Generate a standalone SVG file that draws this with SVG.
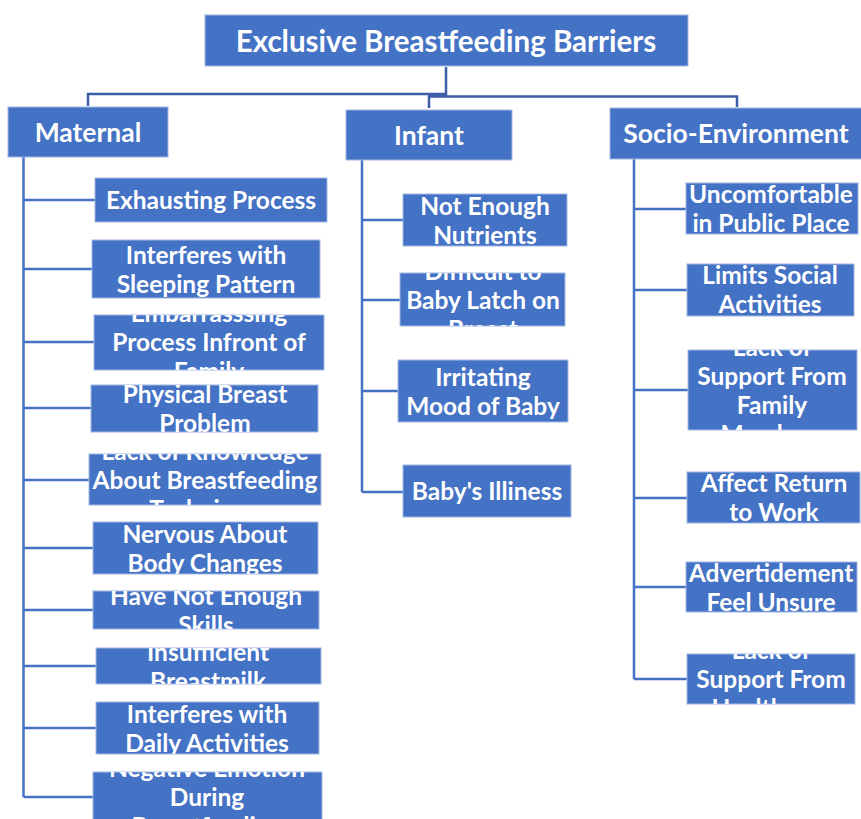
<svg xmlns="http://www.w3.org/2000/svg" width="861" height="819" viewBox="0 0 861 819">
<style>
.box{fill:#4472C4;stroke:#A3B8E2;stroke-width:1}
.t{fill:#FFFFFF;font-family:Lato,"Open Sans","Liberation Sans",sans-serif;font-weight:700;text-anchor:middle}
.c{font-size:24.5px}
.h{font-size:26.5px}
.ti{font-size:29.5px}
.top{fill:none;stroke:#3B5EA6;stroke-width:2.5}
.br{fill:none;stroke:#4472C4;stroke-width:2.5}
</style>
<defs>
<clipPath id="k1"><rect x="95" y="178" width="232" height="44"/></clipPath>
<clipPath id="k2"><rect x="92" y="240" width="228" height="58"/></clipPath>
<clipPath id="k3"><rect x="94" y="315" width="230" height="55"/></clipPath>
<clipPath id="k4"><rect x="91" y="385" width="227" height="47"/></clipPath>
<clipPath id="k5"><rect x="89" y="454" width="232" height="51"/></clipPath>
<clipPath id="k6"><rect x="93" y="522" width="225" height="52"/></clipPath>
<clipPath id="k7"><rect x="93" y="591" width="226" height="38"/></clipPath>
<clipPath id="k8"><rect x="96" y="648" width="225" height="36"/></clipPath>
<clipPath id="k9"><rect x="96" y="702" width="223" height="52"/></clipPath>
<clipPath id="k10"><rect x="93" y="772" width="229" height="50"/></clipPath>
<clipPath id="i1"><rect x="403" y="194" width="164" height="52"/></clipPath>
<clipPath id="i2"><rect x="400" y="273" width="165" height="53"/></clipPath>
<clipPath id="i3"><rect x="398" y="360" width="170" height="62"/></clipPath>
<clipPath id="i4"><rect x="403" y="465" width="168" height="52"/></clipPath>
<clipPath id="s1"><rect x="686" y="183" width="172" height="51"/></clipPath>
<clipPath id="s2"><rect x="687" y="264" width="167" height="52"/></clipPath>
<clipPath id="s3"><rect x="688" y="350" width="169" height="80"/></clipPath>
<clipPath id="s4"><rect x="687" y="472" width="173" height="51"/></clipPath>
<clipPath id="s5"><rect x="686" y="562" width="171" height="50"/></clipPath>
<clipPath id="s6"><rect x="687" y="654" width="168" height="50"/></clipPath>
</defs>

<g id="connectors">
<path class="top" d="M446,67 V96 M88,106 V94 H446 M429,108 V96.5 H737 V107"/>
<path class="br" d="M23.5,157 V797 M23.5,200 H95 M23.5,269 H92 M23.5,342 H94 M23.5,408 H91 M23.5,480 H89 M23.5,548 H93 M23.5,610 H93 M23.5,666 H96 M23.5,728 H96 M23.5,797 H93"/>
<path class="br" d="M362,160 V492 M362,220 H403 M362,300 H400 M362,391 H398 M362,492 H403"/>
<path class="br" d="M634,159 V679 M634,209 H686 M634,290 H687 M634,390 H688 M634,498 H687 M634,587 H686 M634,679 H687"/>
</g>

<g id="title">
<rect class="box" x="205" y="15" width="483" height="51"/>
<text class="t ti" x="446" y="51.5">Exclusive Breastfeeding Barriers</text>
</g>
<g id="maternal">
<rect class="box" x="8" y="107" width="160" height="50"/>
<text class="t h" x="88" y="141.5">Maternal</text>
</g>
<g id="infant">
<rect class="box" x="346" y="110" width="166" height="50"/>
<text class="t h" x="429" y="144.5">Infant</text>
</g>
<g id="socio">
<rect class="box" x="610" y="108" width="256" height="51"/>
<text class="t h" x="736" y="142.5">Socio-Environment</text>
</g>

<g id="m1">
<rect class="box" x="95" y="178" width="232" height="44"/>
<text class="t c" clip-path="url(#k1)" x="211" y="208.5">Exhausting Process</text>
</g>
<g id="m2">
<rect class="box" x="92" y="240" width="228" height="58"/>
<text class="t c" clip-path="url(#k2)" x="206" y="263.5"><tspan x="206">Interferes with</tspan><tspan x="206" dy="29">Sleeping Pattern</tspan></text>
</g>
<g id="m3">
<rect class="box" x="94" y="315" width="230" height="55"/>
<text class="t c" clip-path="url(#k3)" x="209" y="321.5"><tspan x="209">Embarrasssing</tspan><tspan x="209" dy="29">Process Infront of</tspan><tspan x="209" dy="29">Family</tspan></text>
</g>
<g id="m4">
<rect class="box" x="91" y="385" width="227" height="47"/>
<text class="t c" clip-path="url(#k4)" x="205" y="402.5"><tspan x="205">Physical Breast</tspan><tspan x="205" dy="29">Problem</tspan></text>
</g>
<g id="m5">
<rect class="box" x="89" y="454" width="232" height="51"/>
<text class="t c" clip-path="url(#k5)" x="205" y="459.5"><tspan x="205">Lack of Knowledge</tspan><tspan x="205" dy="29">About Breastfeeding</tspan><tspan x="205" dy="29">Technique</tspan></text>
</g>
<g id="m6">
<rect class="box" x="93" y="522" width="225" height="52"/>
<text class="t c" clip-path="url(#k6)" x="205" y="542.5"><tspan x="205">Nervous About</tspan><tspan x="205" dy="29">Body Changes</tspan></text>
</g>
<g id="m7">
<rect class="box" x="93" y="591" width="226" height="38"/>
<text class="t c" clip-path="url(#k7)" x="206" y="604.5"><tspan x="206">Have Not Enough</tspan><tspan x="206" dy="29">Skills</tspan></text>
</g>
<g id="m8">
<rect class="box" x="96" y="648" width="225" height="36"/>
<text class="t c" clip-path="url(#k8)" x="208" y="660.5"><tspan x="208">Insufficient</tspan><tspan x="208" dy="29">Breastmilk</tspan></text>
</g>
<g id="m9">
<rect class="box" x="96" y="702" width="223" height="52"/>
<text class="t c" clip-path="url(#k9)" x="207" y="722.5"><tspan x="207">Interferes with</tspan><tspan x="207" dy="29">Daily Activities</tspan></text>
</g>
<g id="m10">
<rect class="box" x="93" y="772" width="229" height="50"/>
<text class="t c" clip-path="url(#k10)" x="207" y="776.5"><tspan x="207">Negative Emotion</tspan><tspan x="207" dy="29">During</tspan><tspan x="207" dy="29">Breastfeeding</tspan></text>
</g>

<g id="i1n">
<rect class="box" x="403" y="194" width="164" height="52"/>
<text class="t c" clip-path="url(#i1)" x="485" y="214.5"><tspan x="485">Not Enough</tspan><tspan x="485" dy="29">Nutrients</tspan></text>
</g>
<g id="i2n">
<rect class="box" x="400" y="273" width="165" height="53"/>
<text class="t c" clip-path="url(#i2)" x="483" y="279.5"><tspan x="483">Difficult to</tspan><tspan x="483" dy="29">Baby Latch on</tspan><tspan x="483" dy="29">Breast</tspan></text>
</g>
<g id="i3n">
<rect class="box" x="398" y="360" width="170" height="62"/>
<text class="t c" clip-path="url(#i3)" x="483" y="385.5"><tspan x="483">Irritating</tspan><tspan x="483" dy="29">Mood of Baby</tspan></text>
</g>
<g id="i4n">
<rect class="box" x="403" y="465" width="168" height="52"/>
<text class="t c" clip-path="url(#i4)" x="487" y="499.5">Baby's Illiness</text>
</g>

<g id="s1n">
<rect class="box" x="686" y="183" width="172" height="51"/>
<text class="t c" clip-path="url(#s1)" x="771" y="202.5"><tspan x="771">Uncomfortable</tspan><tspan x="771" dy="29">in Public Place</tspan></text>
</g>
<g id="s2n">
<rect class="box" x="687" y="264" width="167" height="52"/>
<text class="t c" clip-path="url(#s2)" x="770" y="283.5"><tspan x="770">Limits Social</tspan><tspan x="770" dy="29">Activities</tspan></text>
</g>
<g id="s3n">
<rect class="box" x="688" y="350" width="169" height="80"/>
<text class="t c" clip-path="url(#s3)" x="772" y="355.5"><tspan x="772">Lack of</tspan><tspan x="772" dy="29">Support From</tspan><tspan x="772" dy="29">Family</tspan><tspan x="772" dy="29">Members</tspan></text>
</g>
<g id="s4n">
<rect class="box" x="687" y="472" width="173" height="51"/>
<text class="t c" clip-path="url(#s4)" x="774" y="491.5"><tspan x="774">Affect Return</tspan><tspan x="774" dy="29">to Work</tspan></text>
</g>
<g id="s5n">
<rect class="box" x="686" y="562" width="171" height="50"/>
<text class="t c" clip-path="url(#s5)" x="771" y="581.5"><tspan x="771">Advertidement</tspan><tspan x="771" dy="29">Feel Unsure</tspan></text>
</g>
<g id="s6n">
<rect class="box" x="687" y="654" width="168" height="50"/>
<text class="t c" clip-path="url(#s6)" x="771" y="658.5"><tspan x="771">Lack of</tspan><tspan x="771" dy="29">Support From</tspan><tspan x="771" dy="29">Healthcare</tspan></text>
</g>
</svg>
